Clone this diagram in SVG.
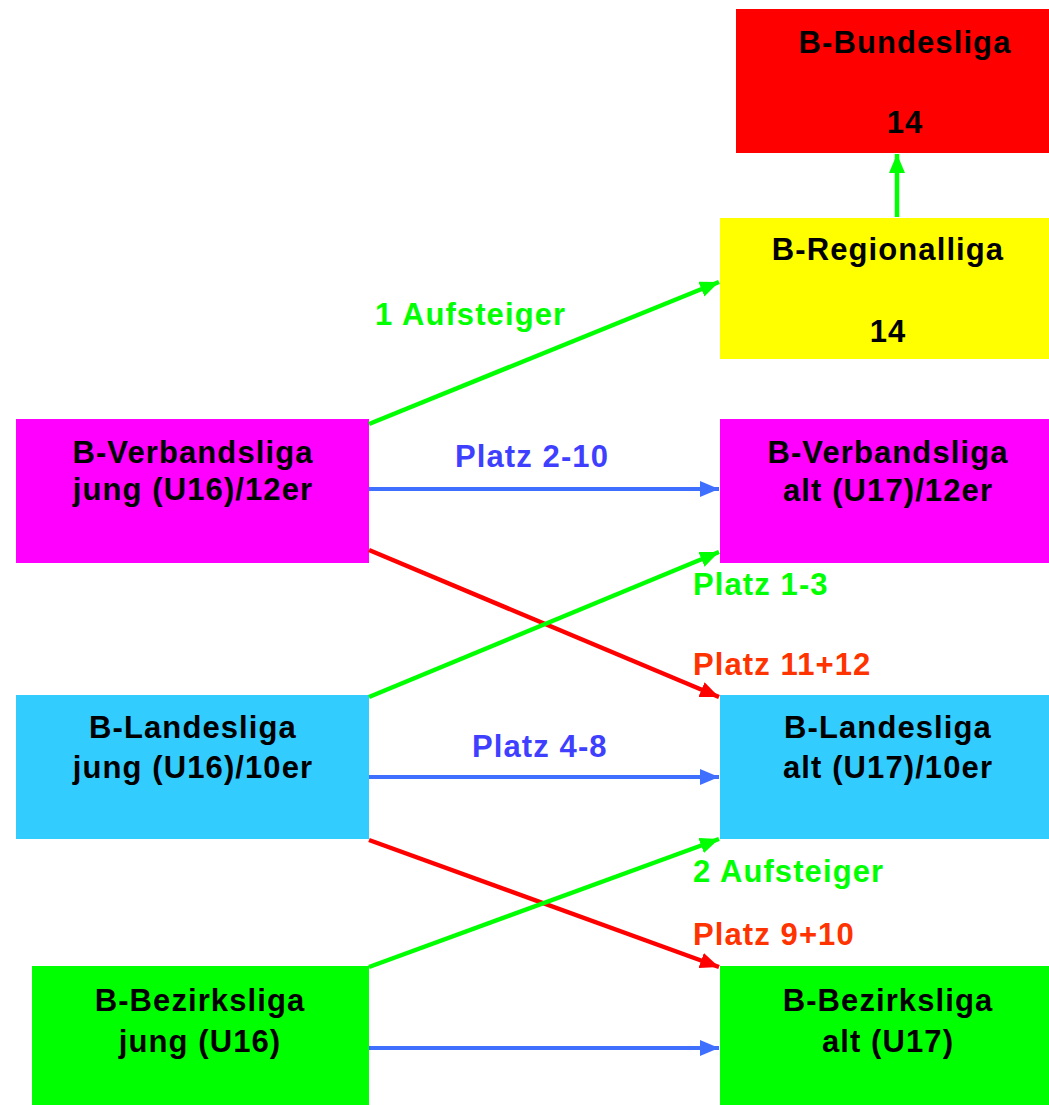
<svg xmlns="http://www.w3.org/2000/svg" width="1049" height="1105" viewBox="0 0 1049 1105">
<style>
text{font-family:"Liberation Sans",Arial,sans-serif;font-weight:bold;font-size:31px;letter-spacing:1.1px}
.n{fill:#000;text-anchor:middle}
.g{fill:#00FF00}
.r{fill:#FF3300}
.b{fill:#3F3FFF}
.lg{stroke:#00FF00;stroke-width:4.5;fill:none}
.lr{stroke:#FF0000;stroke-width:4.5;fill:none}
.lb{stroke:#3F6FFF;stroke-width:4;fill:none}
</style>
<defs>
<marker id="ag" viewBox="0 0 10 10" refX="10" refY="5" markerWidth="19" markerHeight="16" orient="auto" markerUnits="userSpaceOnUse" preserveAspectRatio="none"><path d="M0,0 L10,5 L0,10 Z" fill="#00FF00"/></marker>
<marker id="ar" viewBox="0 0 10 10" refX="10" refY="5" markerWidth="19" markerHeight="16" orient="auto" markerUnits="userSpaceOnUse" preserveAspectRatio="none"><path d="M0,0 L10,5 L0,10 Z" fill="#FF0000"/></marker>
<marker id="ab" viewBox="0 0 10 10" refX="10" refY="5" markerWidth="19" markerHeight="16" orient="auto" markerUnits="userSpaceOnUse" preserveAspectRatio="none"><path d="M0,0 L10,5 L0,10 Z" fill="#3F6FFF"/></marker>
</defs>
<rect width="1049" height="1105" fill="#fff"/>
<g id="bundesliga"><rect x="736" y="9" width="313" height="144" fill="#FF0000"/><text class="n" x="905" y="53">B-Bundesliga</text><text class="n" x="905" y="133">14</text></g>
<g id="regionalliga"><rect x="720" y="218" width="329" height="141" fill="#FFFF00"/><text class="n" x="888" y="260">B-Regionalliga</text><text class="n" x="888" y="342">14</text></g>
<g id="verbandsliga-jung"><rect x="16" y="419" width="353" height="144" fill="#FF00FF"/><text class="n" x="193" y="463">B-Verbandsliga</text><text class="n" x="193" y="500">jung (U16)/12er</text></g>
<g id="verbandsliga-alt"><rect x="720" y="419" width="329" height="144" fill="#FF00FF"/><text class="n" x="888" y="463">B-Verbandsliga</text><text class="n" x="888" y="501">alt (U17)/12er</text></g>
<g id="landesliga-jung"><rect x="16" y="695" width="353" height="144" fill="#33CCFF"/><text class="n" x="193" y="738">B-Landesliga</text><text class="n" x="193" y="778">jung (U16)/10er</text></g>
<g id="landesliga-alt"><rect x="720" y="695" width="329" height="144" fill="#33CCFF"/><text class="n" x="888" y="738">B-Landesliga</text><text class="n" x="888" y="778">alt (U17)/10er</text></g>
<g id="bezirksliga-jung"><rect x="32" y="966" width="337" height="139" fill="#00FF00"/><text class="n" x="200" y="1011">B-Bezirksliga</text><text class="n" x="200" y="1052">jung (U16)</text></g>
<g id="bezirksliga-alt"><rect x="720" y="966" width="329" height="139" fill="#00FF00"/><text class="n" x="888" y="1011">B-Bezirksliga</text><text class="n" x="888" y="1052">alt (U17)</text></g>
<g id="connectors">
<line class="lg" x1="897" y1="217" x2="897" y2="154" marker-end="url(#ag)"/>
<line class="lg" x1="369" y1="424" x2="719" y2="282" marker-end="url(#ag)"/>
<line class="lb" x1="369" y1="489" x2="719" y2="489" marker-end="url(#ab)"/>
<line class="lr" x1="369" y1="550" x2="719" y2="697" marker-end="url(#ar)"/>
<line class="lg" x1="369" y1="697" x2="719" y2="552" marker-end="url(#ag)"/>
<line class="lb" x1="369" y1="777" x2="719" y2="777" marker-end="url(#ab)"/>
<line class="lr" x1="369" y1="840" x2="719" y2="967" marker-end="url(#ar)"/>
<line class="lg" x1="369" y1="967" x2="719" y2="839" marker-end="url(#ag)"/>
<line class="lb" x1="369" y1="1048" x2="719" y2="1048" marker-end="url(#ab)"/>
</g>
<g id="labels">
<text class="g" x="375" y="325">1 Aufsteiger</text>
<text class="b" x="455" y="467">Platz 2-10</text>
<text class="g" x="693" y="595">Platz 1-3</text>
<text class="r" x="693" y="675">Platz 11+12</text>
<text class="b" x="472" y="757">Platz 4-8</text>
<text class="g" x="693" y="882">2 Aufsteiger</text>
<text class="r" x="693" y="945">Platz 9+10</text>
</g>
</svg>
